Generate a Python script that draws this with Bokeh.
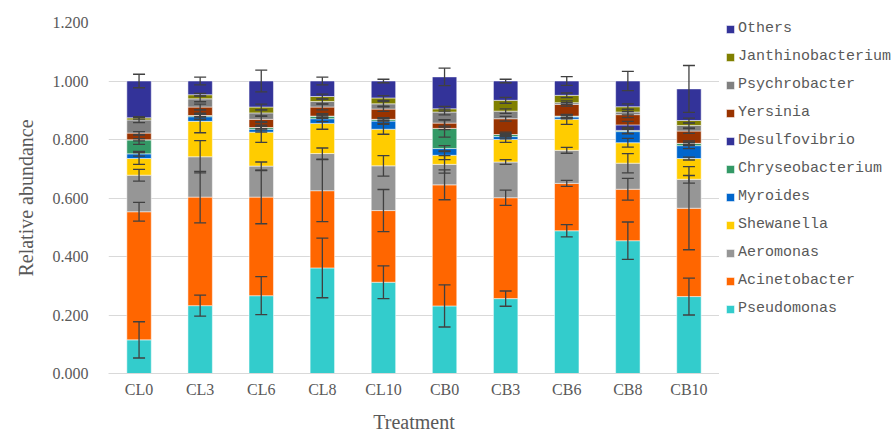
import numpy as np
from bokeh.plotting import figure
from bokeh.layouts import row
from bokeh.models import (ColumnDataSource, Whisker, TeeHead, Legend, LegendItem,
                          FactorRange, Range1d, NumeralTickFormatter, FixedTicker)
from bokeh.embed import file_html
from bokeh.resources import INLINE

treatments = ["CL0", "CL3", "CL6", "CL8", "CL10", "CB0", "CB3", "CB6", "CB8", "CB10"]
genera = ["Pseudomonas", "Acinetobacter", "Aeromonas", "Shewanella", "Myroides",
          "Chryseobacterium", "Desulfovibrio", "Yersinia", "Psychrobacter",
          "Janthinobacterium", "Others"]
colors = ["#33CCCC", "#FF6600", "#969696", "#FFCC00", "#0066CC", "#339966",
          "#333399", "#993300", "#808080", "#808000", "#333399"]

pseudomonas = [0.115, 0.232, 0.266, 0.361, 0.312, 0.231, 0.256, 0.488, 0.454, 0.263]
acinetobacter = [0.438, 0.371, 0.337, 0.264, 0.245, 0.414, 0.345, 0.162, 0.176, 0.302]
aeromonas = [0.125, 0.138, 0.106, 0.127, 0.153, 0.070, 0.122, 0.113, 0.089, 0.099]
shewanella = [0.057, 0.121, 0.116, 0.103, 0.125, 0.031, 0.077, 0.106, 0.070, 0.071]
myroides = [0.016, 0.016, 0.010, 0.016, 0.028, 0.023, 0.010, 0.008, 0.038, 0.044]
chryseobacterium = [0.048, 0.004, 0.006, 0.009, 0.006, 0.069, 0.007, 0.003, 0.004, 0.008]
desulfovibrio = [0.000, 0.000, 0.000, 0.000, 0.000, 0.000, 0.000, 0.000, 0.019, 0.000]
yersinia = [0.023, 0.029, 0.028, 0.031, 0.035, 0.018, 0.054, 0.040, 0.035, 0.042]
psychrobacter = [0.045, 0.028, 0.022, 0.019, 0.018, 0.038, 0.026, 0.006, 0.009, 0.019]
janthinobacterium = [0.007, 0.014, 0.020, 0.017, 0.020, 0.011, 0.037, 0.025, 0.018, 0.017]
others = [0.126, 0.047, 0.089, 0.053, 0.058, 0.109, 0.066, 0.049, 0.088, 0.108]

err_pseudomonas = [0.062, 0.036, 0.065, 0.102, 0.056, 0.072, 0.026, 0.021, 0.064, 0.063]
err_acinetobacter = [0.032, 0.088, 0.091, 0.106, 0.072, 0.051, 0.026, 0.010, 0.037, 0.142]
err_aeromonas = [0.020, 0.055, 0.014, 0.019, 0.035, 0.030, 0.008, 0.010, 0.033, 0.013]
err_shewanella = [0.020, 0.039, 0.035, 0.020, 0.017, 0.015, 0.010, 0.017, 0.015, 0.005]
err_myroides = [0.008, 0.010, 0.010, 0.010, 0.008, 0.010, 0.008, 0.006, 0.008, 0.010]
err_chryseobacterium = [0.016, 0.008, 0.008, 0.008, 0.006, 0.030, 0.008, 0.005, 0.010, 0.008]
err_desulfovibrio = [0.004, 0.004, 0.004, 0.004, 0.004, 0.004, 0.004, 0.004, 0.012, 0.004]
err_yersinia = [0.005, 0.010, 0.010, 0.010, 0.008, 0.010, 0.008, 0.006, 0.010, 0.008]
err_psychrobacter = [0.009, 0.010, 0.010, 0.008, 0.008, 0.010, 0.008, 0.006, 0.010, 0.008]
err_janthinobacterium = [0.004, 0.005, 0.010, 0.008, 0.008, 0.008, 0.010, 0.008, 0.010, 0.008]
err_others = [0.023, 0.013, 0.037, 0.013, 0.006, 0.030, 0.006, 0.015, 0.033, 0.080]

values = [pseudomonas, acinetobacter, aeromonas, shewanella, myroides, chryseobacterium,
          desulfovibrio, yersinia, psychrobacter, janthinobacterium, others]
errors = [err_pseudomonas, err_acinetobacter, err_aeromonas, err_shewanella, err_myroides,
          err_chryseobacterium, err_desulfovibrio, err_yersinia, err_psychrobacter,
          err_janthinobacterium, err_others]

data = {"treatment": treatments}
for g, v in zip(genera, values):
    data[g] = v
source = ColumnDataSource(data)

# ---- main chart ----
p = figure(x_range=FactorRange(*treatments, range_padding=0), y_range=Range1d(0, 1.2),
           width=719, height=435, output_backend="svg", toolbar_location=None,
           min_border_left=108, min_border_right=0, min_border_top=22, min_border_bottom=62)

p.vbar_stack(genera, x="treatment", width=0.4, source=source, color=colors,
             line_color="white", line_alpha=0.5, line_width=1)

tops = np.cumsum(np.array(values), axis=0)
for top, err in zip(tops, errors):
    err = np.array(err)
    ws = ColumnDataSource({"x": treatments, "upper": top + err, "lower": top - err})
    w = Whisker(source=ws, base="x", upper="upper", lower="lower", level="overlay",
                line_color="#404040", line_width=1.3,
                upper_head=TeeHead(size=12, line_color="#404040", line_width=1.3),
                lower_head=TeeHead(size=12, line_color="#404040", line_width=1.3))
    p.add_layout(w)

p.yaxis.ticker = FixedTicker(ticks=[0, 0.2, 0.4, 0.6, 0.8, 1.0, 1.2])
p.yaxis.formatter = NumeralTickFormatter(format="0.000")
p.yaxis.axis_label = "Relative abundance"
p.xaxis.axis_label = "Treatment"
for ax in (p.xaxis[0], p.yaxis[0]):
    ax.major_label_text_font = "Liberation Serif"
    ax.major_label_text_font_size = "16px"
    ax.major_label_text_color = "#595959"
    ax.axis_label_text_font = "Liberation Serif"
    ax.axis_label_text_font_size = "20px"
    ax.axis_label_text_color = "#595959"
    ax.axis_label_text_font_style = "normal"
    ax.major_tick_line_color = None
    ax.minor_tick_line_color = None
    ax.major_tick_out = 0
    ax.major_tick_in = 0
p.yaxis[0].axis_line_color = None
p.xaxis[0].axis_line_color = "#D9D9D9"
p.yaxis[0].major_label_standoff = 20
p.yaxis[0].axis_label_standoff = 13
p.xaxis[0].major_label_standoff = 7
p.xaxis[0].axis_label_standoff = 10
p.xgrid.grid_line_color = None
p.ygrid.grid_line_color = "#D9D9D9"
p.outline_line_color = None

# ---- legend panel ----
lg = figure(width=174, height=435, output_backend="svg", toolbar_location=None,
            x_axis_type=None, y_axis_type=None, x_range=Range1d(0, 1), y_range=Range1d(0, 1),
            min_border=0)
lg.grid.grid_line_color = None
lg.outline_line_color = None
swatches = []
for g, c in zip(genera, colors):
    r = lg.vbar(x=[np.nan], top=[np.nan], width=0.4, color=c, line_color="white", line_alpha=0.5)
    swatches.append(LegendItem(label=g, renderers=[r]))
legend = Legend(items=swatches[::-1], location=(6, 56), margin=0, padding=0,
                glyph_width=10, glyph_height=10, label_standoff=3, spacing=11,
                label_height=14, label_text_font="Liberation Mono",
                label_text_font_size="15px", label_text_color="#595959",
                background_fill_alpha=0, border_line_alpha=0)
lg.add_layout(legend)

open("out.html", "w").write(file_html(row(p, lg), INLINE))
